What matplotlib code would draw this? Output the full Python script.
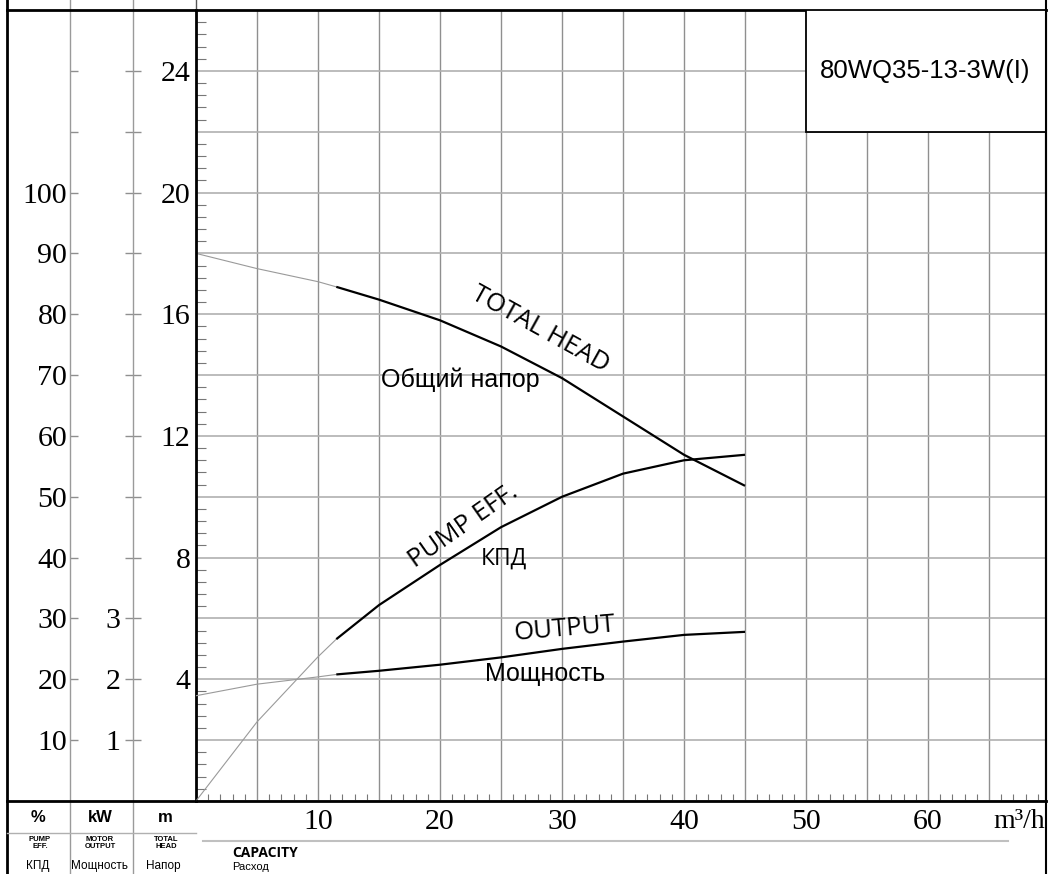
import matplotlib
matplotlib.use("Agg")
import matplotlib.pyplot as plt
from matplotlib.ticker import MultipleLocator
from matplotlib.lines import Line2D
from matplotlib.patches import Rectangle

plt.rcParams['font.family'] = ['Liberation Serif', 'DejaVu Serif']

# values
flow = [0, 5, 10, 11.5, 15, 20, 25, 30, 35, 40, 45]             # m3/h
head = [18.0, 17.5, 17.07, 16.9, 16.48, 15.8, 14.94, 13.9, 12.64, 11.38, 10.36]  # m
eff = [0, 13.0, 23.7, 26.6, 32.2, 38.8, 45.0, 50.0, 53.8, 56.0, 56.9]           # %
power = [1.73, 1.92, 2.04, 2.08, 2.14, 2.24, 2.36, 2.50, 2.62, 2.73, 2.78]      # kW
solid_from = 3  # the measured (bold) part of each curve starts here

flow_labels = [10, 20, 30, 40, 50, 60]
head_labels = [4, 8, 12, 16, 20, 24]
eff_labels = [10, 20, 30, 40, 50, 60, 70, 80, 90, 100]
power_labels = [1, 2, 3]
model = "80WQ35-13-3W(I)"

W, H = 1048, 874


def fx(px):
    return px / W


def fy(py):
    return 1 - py / H


def fig_line(x0, y0, x1, y1, **kw):
    fig.add_artist(Line2D([fx(x0), fx(x1)], [fy(y0), fy(y1)], transform=fig.transFigure, **kw))


fig = plt.figure(figsize=(W / 100, H / 100), dpi=100)
ax = fig.add_axes([fx(196), fy(801), (1046 - 196) / W, (801 - 10) / H])
ax.set_xlim(0, 69.67)
ax.set_ylim(0, 26)
ax.set_axisbelow(True)

# x axis: grid every 5, minor ticks every 1
xt = list(range(0, 70, 5))
ax.set_xticks(xt, [str(v) if v in flow_labels else '' for v in xt])
ax.xaxis.set_minor_locator(MultipleLocator(1))
ax.tick_params(axis='x', which='major', length=0, pad=6, labelsize=21.5)
ax.tick_params(axis='x', which='minor', direction='in', length=5, width=0.8, color='#777777')

# head axis: grid every 2, minor ticks every 0.4
yt = list(range(0, 27, 2))
ax.set_yticks(yt, [str(v) if v in head_labels else '' for v in yt])
ax.yaxis.set_minor_locator(MultipleLocator(0.4))
ax.tick_params(axis='y', which='major', length=0, pad=4, labelsize=21.5)
ax.tick_params(axis='y', which='minor', direction='in', length=7, width=0.8, color='#777777')

ax.grid(axis='x', color='#8f8f8f', lw=1.0)
ax.grid(axis='y', color='#b0b0b0', lw=1.2)
for side in ['left', 'bottom', 'top']:
    ax.spines[side].set_linewidth(2)
ax.spines['right'].set_linewidth(1.5)

# efficiency scale (%), same height as head*5
sec_e = ax.secondary_yaxis((70 - 196) / 850, functions=(lambda h: h * 5, lambda e: e / 5))
et = list(range(10, 130, 10))
sec_e.set_yticks(et, [str(v) if v in eff_labels else '' for v in et])
sec_e.tick_params(direction='in', length=6, width=1, color='#8f8f8f', pad=2, labelsize=21.5)
for s in sec_e.spines.values():
    s.set_visible(False)

# motor output scale (kW), head/2
sec_p = ax.secondary_yaxis((133 - 196) / 850, functions=(lambda h: h / 2, lambda p: p * 2))
pt = list(range(1, 13))
sec_p.set_yticks(pt, [str(v) if v in power_labels else '' for v in pt])
sec_p.tick_params(direction='inout', length=12, width=1, color='#8f8f8f', pad=3, labelsize=21.5)
for s in sec_p.spines.values():
    s.set_visible(False)

ax_e = ax.twinx()
ax_e.set_ylim(0, 130)
ax_e.axis('off')
ax_p = ax.twinx()
ax_p.set_ylim(0, 13)
ax_p.axis('off')

# thin extrapolated part + bold measured part
for a, vals in [(ax, head), (ax_e, eff), (ax_p, power)]:
    a.plot(flow[:solid_from + 1], vals[:solid_from + 1], color='#9a9a9a', lw=0.8)
    a.plot(flow[solid_from:], vals[solid_from:], color='black', lw=1.6,
           solid_capstyle='butt', solid_joinstyle='round')

sans = ['Open Sans', 'DejaVu Sans']
arial = ['Liberation Sans', 'DejaVu Sans']
ax.text(28.2, 15.5, 'TOTAL HEAD', rotation=-29, rotation_mode='anchor', ha='center', va='center',
        family=sans, fontsize=18.5)
ax.text(15.2, 13.85, 'Общий напор', ha='left', va='center', family=arial, fontsize=18)
ax.text(21.9, 9.02, 'PUMP EFF.', rotation=35, rotation_mode='anchor', ha='center', va='center',
        family=sans, fontsize=18.5)
ax.text(25.25, 7.96, 'КПД', ha='center', va='center', family=sans, fontsize=16.5)
ax.text(30.2, 5.66, 'OUTPUT', rotation=5, rotation_mode='anchor', ha='center', va='center',
        family=sans, fontsize=18.5)
ax.text(23.7, 4.18, 'Мощность', ha='left', va='center', family=arial, fontsize=18)

# model box top right
ax.add_patch(Rectangle((50, 22), 20, 4, facecolor='white', edgecolor='black', lw=1.3, zorder=3))
ax.text(59.8, 24, model, ha='center', va='center', family=arial, fontsize=18.5, zorder=4)

# frame and column lines of the sheet
fig_line(7, 0, 7, 874, color='black', lw=2)
fig_line(70, 0, 70, 874, color='#9a9a9a', lw=1)
fig_line(133, 0, 133, 874, color='#9a9a9a', lw=1)
fig_line(196, 0, 196, 10, color='#555555', lw=1)
fig_line(1046, 0, 1046, 874, color='black', lw=1.5)
fig_line(7, 10, 196, 10, color='black', lw=2)
fig_line(7, 801, 196, 801, color='black', lw=2)
fig_line(7, 833, 196, 833, color='#b0b0b0', lw=1)
fig_line(203, 841, 1008, 841, color='#c0c0c0', lw=1.5)

# unit headers under the scales
for x, unit in [(38, '%'), (100, 'kW'), (165, 'm')]:
    fig.text(fx(x), fy(818), unit, ha='center', va='center', family=arial, fontsize=12, weight='bold')
for x, name in [(40, 'PUMP\nEFF.'), (100, 'MOTOR\nOUTPUT'), (166, 'TOTAL\nHEAD')]:
    fig.text(fx(x), fy(843), name, ha='center', va='center', family=arial, fontsize=5.5,
             weight='bold', linespacing=1.0)
for x, name in [(38, 'КПД'), (100, 'Мощность'), (163, 'Напор')]:
    fig.text(fx(x), fy(866), name, ha='center', va='center', family=arial, fontsize=8.5)
fig.text(fx(232), fy(853), 'CAPACITY', ha='left', va='center', family=sans, fontsize=10, weight='bold')
fig.text(fx(232), fy(867), 'Расход', ha='left', va='center', family=arial, fontsize=8)
fig.text(fx(1045), fy(821), 'm³/h', ha='right', va='center', fontsize=20)

fig.savefig('out.png', dpi=100)
